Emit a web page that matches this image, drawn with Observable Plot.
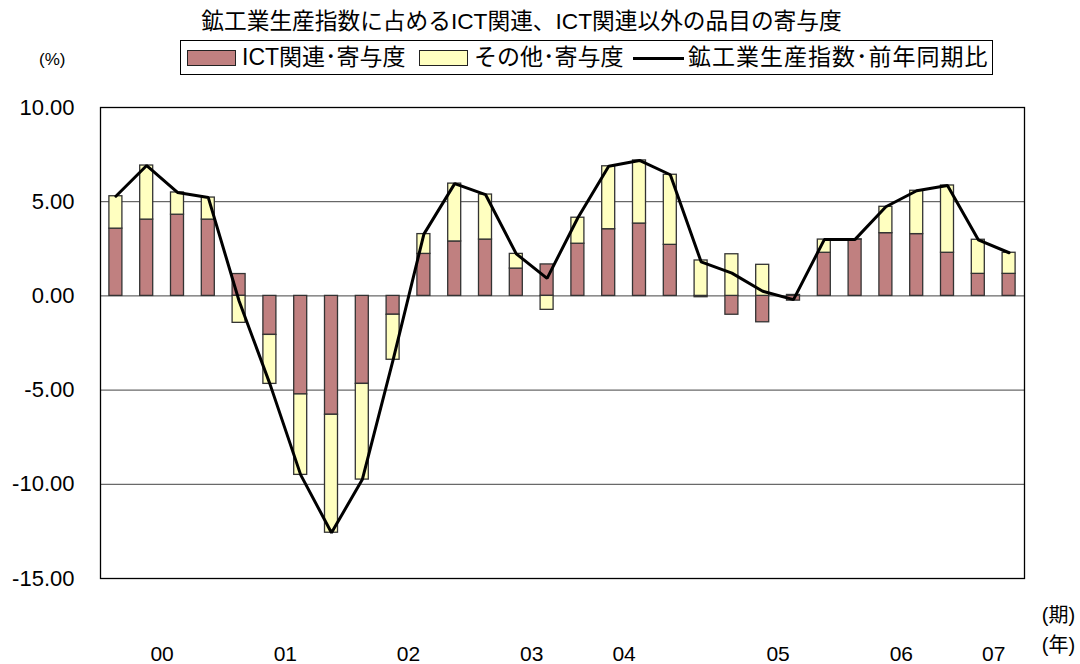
<!DOCTYPE html>
<html>
<head>
<meta charset="utf-8">
<script src="https://cdn.jsdelivr.net/npm/d3@7"></script>
<script src="https://cdn.jsdelivr.net/npm/@observablehq/plot@0.6"></script>
<style>
  html, body { margin: 0; padding: 0; background: #fff; }
  body { width: 1080px; height: 664px; position: relative; overflow: hidden;
         font-family: "Liberation Sans", "Noto Sans CJK JP", sans-serif; color: #000; }
  #title { position: absolute; left: 0; width: 1043px; top: 7px; text-align: center; font-size: 22.7px; line-height: 28px; white-space: nowrap; }
  #pct { position: absolute; left: 39px; top: 49px; font-size: 17px; line-height: 22px; }
  #legend { position: absolute; left: 180px; top: 40px; width: 813px; height: 35px; border: 1px solid #000; box-sizing: border-box; }
  .it { position: absolute; top: 0; height: 33px; line-height: 33px; font-size: 23px; white-space: nowrap; }
  .sw { position: absolute; top: 9px; width: 49px; height: 16px; border: 1px solid #222; box-sizing: border-box; }
  .ln { position: absolute; top: 16px; width: 51px; height: 3px; background: #000; }
  #chart { position: absolute; left: 0; top: 0; }
</style>
</head>
<body>
<div id="chart"></div>
<div id="title">鉱工業生産指数に占めるICT関連、ICT関連以外の品目の寄与度</div>
<div id="pct">(%)</div>
<div id="legend">
  <span class="sw" style="left:6px;background:#C08080"></span><span class="it" style="left:61px">ICT関連･寄与度</span>
  <span class="sw" style="left:238px;background:#FFFFC0"></span><span class="it" style="left:293px">その他･寄与度</span>
  <span class="ln" style="left:452px"></span><span class="it" style="left:507px;letter-spacing:1px">鉱工業生産指数･前年同期比</span>
</div>
<script>
// Quarters 2000Q1 .. 2007Q2
const quarters = [
  "2000Q1","2000Q2","2000Q3","2000Q4",
  "2001Q1","2001Q2","2001Q3","2001Q4",
  "2002Q1","2002Q2","2002Q3","2002Q4",
  "2003Q1","2003Q2","2003Q3","2003Q4",
  "2004Q1","2004Q2","2004Q3","2004Q4",
  "2005Q1","2005Q2","2005Q3","2005Q4",
  "2006Q1","2006Q2","2006Q3","2006Q4",
  "2007Q1","2007Q2"
];
// ICT関連・寄与度
const ictContribution = [
  3.57, 4.05, 4.31, 4.05,
  1.16, -2.07, -5.23, -6.31,
  -4.67, -1.00, 2.23, 2.89,
  2.99, 1.45, 1.67, 2.77,
  3.54, 3.84, 2.71, -0.07,
  -1.00, -1.40, -0.25, 2.29,
  2.99, 3.33, 3.28, 2.29,
  1.17, 1.17
];
// その他・寄与度
const otherContribution = [
  1.72, 2.87, 1.18, 1.17,
  -1.43, -2.60, -4.27, -6.26,
  -5.08, -2.39, 1.05, 3.07,
  2.39, 0.78, -0.74, 1.38,
  3.34, 3.35, 3.72, 1.88,
  2.21, 1.65, 0.05, 0.70,
  0.01, 1.40, 2.30, 3.57,
  1.81, 1.12
];
// 鉱工業生産指数・前年同期比
const indexYoY = [
  5.29, 6.92, 5.49, 5.22,
  -0.27, -4.67, -9.50, -12.57,
  -9.75, -3.39, 3.28, 5.96,
  5.38, 2.23, 0.93, 4.15,
  6.88, 7.19, 6.43, 1.81,
  1.21, 0.25, -0.20, 2.99,
  3.00, 4.73, 5.58, 5.86,
  2.98, 2.29
];
// year labels and the quarter they are drawn after
const yearLabels = ["00","01","02","03","04","05","06","07"];
const yearLabelQuarter = ["2000Q2","2001Q2","2002Q2","2003Q2","2004Q1","2005Q2","2006Q2","2007Q1"];
const yTicks = [10, 5, 0, -5, -10, -15];
const gridTicks = [5, 0, -5, -10];

const seriesNames = ["ICT関連･寄与度", "その他･寄与度"];
const barRows = [
  ...quarters.map((q, i) => ({q, v: ictContribution[i], s: seriesNames[0]})),
  ...quarters.map((q, i) => ({q, v: otherContribution[i], s: seriesNames[1]}))
];
const lineRows = quarters.map((q, i) => ({q, v: indexYoY[i]}));
const yearRows = yearLabels.map((t, i) => ({t, q: yearLabelQuarter[i]}));

const W = 1080, H = 664, mL = 100, mR = 56;
const step = (W - mL - mR) / quarters.length;
const barInset = (step - 13) / 2;

const chart = Plot.plot({
  width: W, height: H,
  marginTop: 107, marginBottom: 86, marginLeft: mL, marginRight: mR,
  style: {fontFamily: '"Liberation Sans", "Noto Sans CJK JP", sans-serif', fontSize: "17px", color: "#000", background: "transparent"},
  x: {type: "band", domain: quarters, padding: 0, round: false, axis: null},
  y: {domain: [-15, 10], axis: null},
  color: {domain: seriesNames, range: ["#C08080", "#FFFFC0"]},
  marks: [
    Plot.ruleY(gridTicks, {stroke: "#444", strokeWidth: 1}),
    Plot.barY(barRows, {x: "q", y: "v", fill: "s", stroke: "#333", strokeWidth: 1.3, insetLeft: barInset, insetRight: barInset}),
    Plot.lineY(lineRows, {x: "q", y: "v", stroke: "#000", strokeWidth: 3, strokeLinejoin: "miter"}),
    Plot.frame({stroke: "#000", strokeWidth: 1.3}),
    Plot.axisY(yTicks, {label: null, tickSize: 0, tickPadding: 26, fontSize: 22, tickFormat: d => d.toFixed(2)}),
    Plot.text(yearRows, {x: "q", text: "t", frameAnchor: "bottom", lineAnchor: "middle", dx: step / 2, dy: 76, fontSize: 21}),
    Plot.text(["(期)"], {frameAnchor: "bottom-right", textAnchor: "middle", lineAnchor: "middle", dx: 34, dy: 37, fontSize: 20}),
    Plot.text(["(年)"], {frameAnchor: "bottom-right", textAnchor: "middle", lineAnchor: "middle", dx: 34, dy: 67, fontSize: 20})
  ]
});
document.getElementById("chart").appendChild(chart);
</script>
</body>
</html>
